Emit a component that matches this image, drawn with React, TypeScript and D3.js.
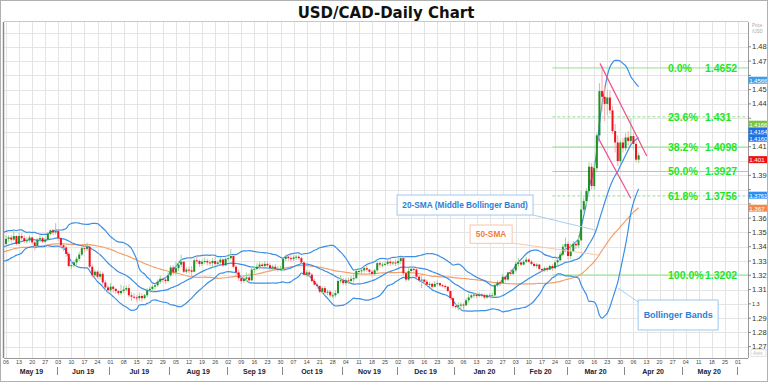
import React, { useMemo } from "react";
import * as d3 from "d3";

const W = 768;
const H = 382;
const START_DATE = new Date(2019, 4, 6);
const TRADING_DAYS = 285;

// closes before the first visible candle (Feb 25 - May 3 2019), used for the indicators
const PRE_CLOSES = [
  1.3160, 1.3180, 1.3215, 1.3160, 1.3240,
  1.3310, 1.3350, 1.3385, 1.3450, 1.3420,
  1.3370, 1.3340, 1.3320, 1.3340, 1.3350,
  1.3310, 1.3335, 1.3310, 1.3385, 1.3440,
  1.3410, 1.3400, 1.3440, 1.3445, 1.3355,
  1.3320, 1.3350, 1.3310, 1.3375, 1.3395,
  1.3350, 1.3345, 1.3330, 1.3350, 1.3345,
  1.3380, 1.3365, 1.3330, 1.3370, 1.3410,
  1.3400, 1.3440, 1.3500, 1.3485, 1.3460,
  1.3415, 1.3400, 1.3445, 1.3460, 1.3420,
];

// visible daily candles, May 6 2019 - Apr 8 2020 (open = previous close)
const CLOSES = [
  1.3455, 1.3465, 1.3450, 1.3475, 1.3420,
  1.3475, 1.3460, 1.3440, 1.3445, 1.3465,
  1.3430, 1.3405, 1.3450, 1.3460, 1.3435,
  1.3450, 1.3490, 1.3515, 1.3500, 1.3510,
  1.3460, 1.3410, 1.3395, 1.3350, 1.3265,
  1.3270, 1.3290, 1.3315, 1.3345, 1.3390,
  1.3385, 1.3400, 1.3260, 1.3200, 1.3225,
  1.3190, 1.3210, 1.3150, 1.3115, 1.3095,
  1.3120, 1.3105, 1.3090, 1.3075, 1.3090,
  1.3100, 1.3110, 1.3060, 1.3050, 1.3045,
  1.3040, 1.3055, 1.3040, 1.3060, 1.3095,
  1.3105, 1.3120, 1.3130, 1.3155, 1.3175,
  1.3170, 1.3160, 1.3200, 1.3255, 1.3220,
  1.3250, 1.3275, 1.3295, 1.3225, 1.3240,
  1.3235, 1.3225, 1.3305, 1.3300, 1.3280,
  1.3295, 1.3300, 1.3290, 1.3285, 1.3300,
  1.3280, 1.3290, 1.3310, 1.3270, 1.3315,
  1.3320, 1.3335, 1.3260, 1.3220, 1.3180,
  1.3160, 1.3175, 1.3185, 1.3165, 1.3240,
  1.3245, 1.3260, 1.3275, 1.3265, 1.3280,
  1.3270, 1.3250, 1.3260, 1.3245, 1.3245,
  1.3245, 1.3315, 1.3330, 1.3320, 1.3315,
  1.3325, 1.3330, 1.3320, 1.3290, 1.3205,
  1.3220, 1.3205, 1.3160, 1.3135, 1.3125,
  1.3085, 1.3110, 1.3080, 1.3085, 1.3060,
  1.3060, 1.3075, 1.3160, 1.3165, 1.3145,
  1.3165, 1.3160, 1.3175, 1.3180, 1.3230,
  1.3230, 1.3235, 1.3250, 1.3240, 1.3225,
  1.3210, 1.3235, 1.3285, 1.3275, 1.3275,
  1.3280, 1.3295, 1.3285, 1.3290, 1.3285,
  1.3300, 1.3320, 1.3215, 1.3170, 1.3230,
  1.3245, 1.3240, 1.3190, 1.3165, 1.3170,
  1.3155, 1.3135, 1.3140, 1.3120, 1.3140,
  1.3145, 1.3130, 1.3125, 1.3120, 1.3090,
  1.3040, 1.2985, 1.2980, 1.2990, 1.2995,
  1.2990, 1.3025, 1.3045, 1.3060, 1.3065,
  1.3055, 1.3065, 1.3060, 1.3045, 1.3060,
  1.3055, 1.3060, 1.3130, 1.3150, 1.3145,
  1.3190, 1.3170, 1.3220, 1.3210, 1.3235,
  1.3280, 1.3290, 1.3275, 1.3295, 1.3310,
  1.3295, 1.3280, 1.3265, 1.3275, 1.3245,
  1.3235, 1.3250, 1.3240, 1.3265, 1.3250,
  1.3290, 1.3305, 1.3345, 1.3400, 1.3420,
  1.3335, 1.3370, 1.3420, 1.3410, 1.3445,
  1.3660, 1.3720, 1.3790, 1.3960, 1.3825,
  1.3950, 1.4180, 1.4490, 1.4450, 1.4400,
  1.4445, 1.4355, 1.4210, 1.4130, 1.4000,
  1.4130, 1.4090, 1.4165, 1.4140, 1.4175,
  1.4120, 1.4010, 1.4040,
];

const HIGHS = [
  1.3480, 1.3480, 1.3480, 1.3520, 1.3480,
  1.3500, 1.3495, 1.3480, 1.3465, 1.3480,
  1.3470, 1.3440, 1.3460, 1.3480, 1.3470,
  1.3465, 1.3505, 1.3520, 1.3525, 1.3565,
  1.3520, 1.3465, 1.3425, 1.3410, 1.3365,
  1.3300, 1.3305, 1.3330, 1.3365, 1.3405,
  1.3410, 1.3430, 1.3410, 1.3275, 1.3240,
  1.3235, 1.3230, 1.3225, 1.3165, 1.3130,
  1.3145, 1.3130, 1.3110, 1.3095, 1.3135,
  1.3125, 1.3130, 1.3135, 1.3080, 1.3075,
  1.3060, 1.3080, 1.3075, 1.3070, 1.3110,
  1.3120, 1.3135, 1.3140, 1.3170, 1.3200,
  1.3185, 1.3185, 1.3220, 1.3270, 1.3270,
  1.3295, 1.3290, 1.3345, 1.3300, 1.3255,
  1.3260, 1.3265, 1.3320, 1.3335, 1.3310,
  1.3310, 1.3325, 1.3315, 1.3305, 1.3320,
  1.3330, 1.3305, 1.3325, 1.3320, 1.3325,
  1.3330, 1.3385, 1.3340, 1.3270, 1.3240,
  1.3195, 1.3190, 1.3220, 1.3215, 1.3265,
  1.3265, 1.3285, 1.3295, 1.3290, 1.3300,
  1.3295, 1.3285, 1.3275, 1.3280, 1.3265,
  1.3265, 1.3320, 1.3345, 1.3345, 1.3340,
  1.3340, 1.3345, 1.3345, 1.3330, 1.3295,
  1.3235, 1.3235, 1.3215, 1.3175, 1.3150,
  1.3130, 1.3120, 1.3125, 1.3100, 1.3095,
  1.3080, 1.3095, 1.3175, 1.3200, 1.3180,
  1.3180, 1.3185, 1.3195, 1.3210, 1.3240,
  1.3250, 1.3245, 1.3270, 1.3270, 1.3245,
  1.3235, 1.3245, 1.3300, 1.3300, 1.3290,
  1.3300, 1.3320, 1.3320, 1.3300, 1.3310,
  1.3320, 1.3330, 1.3325, 1.3225, 1.3250,
  1.3260, 1.3265, 1.3255, 1.3200, 1.3200,
  1.3175, 1.3170, 1.3155, 1.3150, 1.3160,
  1.3165, 1.3150, 1.3140, 1.3135, 1.3125,
  1.3095, 1.3050, 1.3000, 1.3010, 1.3010,
  1.3005, 1.3040, 1.3070, 1.3070, 1.3080,
  1.3075, 1.3080, 1.3075, 1.3070, 1.3070,
  1.3075, 1.3080, 1.3140, 1.3165, 1.3165,
  1.3210, 1.3195, 1.3225, 1.3240, 1.3250,
  1.3300, 1.3320, 1.3300, 1.3310, 1.3330,
  1.3320, 1.3305, 1.3290, 1.3285, 1.3280,
  1.3245, 1.3260, 1.3260, 1.3275, 1.3280,
  1.3305, 1.3330, 1.3365, 1.3420, 1.3465,
  1.3440, 1.3420, 1.3440, 1.3440, 1.3480,
  1.3790, 1.3745, 1.3810, 1.3990, 1.3985,
  1.4000, 1.4195, 1.4545, 1.4667, 1.4530,
  1.4500, 1.4495, 1.4385, 1.4260, 1.4180,
  1.4150, 1.4160, 1.4195, 1.4210, 1.4295,
  1.4200, 1.4140, 1.4060,
];

const LOWS = [
  1.3410, 1.3435, 1.3430, 1.3440, 1.3410,
  1.3415, 1.3445, 1.3425, 1.3420, 1.3430,
  1.3415, 1.3375, 1.3400, 1.3430, 1.3425,
  1.3425, 1.3445, 1.3480, 1.3480, 1.3485,
  1.3440, 1.3390, 1.3370, 1.3330, 1.3255,
  1.3240, 1.3255, 1.3270, 1.3300, 1.3335,
  1.3360, 1.3370, 1.3250, 1.3185, 1.3190,
  1.3175, 1.3170, 1.3135, 1.3090, 1.3070,
  1.3080, 1.3080, 1.3070, 1.3060, 1.3060,
  1.3075, 1.3085, 1.3045, 1.3020, 1.3030,
  1.3015, 1.3020, 1.3015, 1.3030, 1.3045,
  1.3080, 1.3085, 1.3100, 1.3120, 1.3140,
  1.3150, 1.3140, 1.3150, 1.3190, 1.3205,
  1.3200, 1.3230, 1.3255, 1.3215, 1.3210,
  1.3215, 1.3190, 1.3220, 1.3280, 1.3260,
  1.3265, 1.3280, 1.3270, 1.3265, 1.3255,
  1.3265, 1.3265, 1.3280, 1.3260, 1.3265,
  1.3300, 1.3310, 1.3250, 1.3190, 1.3160,
  1.3140, 1.3145, 1.3160, 1.3145, 1.3160,
  1.3215, 1.3235, 1.3240, 1.3245, 1.3255,
  1.3250, 1.3225, 1.3230, 1.3230, 1.3225,
  1.3230, 1.3235, 1.3300, 1.3300, 1.3295,
  1.3300, 1.3305, 1.3305, 1.3280, 1.3200,
  1.3190, 1.3190, 1.3150, 1.3130, 1.3105,
  1.3075, 1.3070, 1.3065, 1.3060, 1.3045,
  1.3040, 1.3045, 1.3065, 1.3145, 1.3130,
  1.3130, 1.3140, 1.3150, 1.3150, 1.3175,
  1.3205, 1.3210, 1.3220, 1.3225, 1.3200,
  1.3190, 1.3200, 1.3225, 1.3255, 1.3255,
  1.3265, 1.3265, 1.3265, 1.3270, 1.3265,
  1.3270, 1.3280, 1.3200, 1.3155, 1.3160,
  1.3225, 1.3225, 1.3180, 1.3150, 1.3110,
  1.3135, 1.3125, 1.3120, 1.3110, 1.3115,
  1.3125, 1.3120, 1.3115, 1.3105, 1.3080,
  1.3030, 1.2970, 1.2965, 1.2955, 1.2960,
  1.2960, 1.2985, 1.3010, 1.3035, 1.3040,
  1.3040, 1.3045, 1.3045, 1.3035, 1.3035,
  1.3045, 1.3040, 1.3050, 1.3120, 1.3125,
  1.3140, 1.3155, 1.3160, 1.3195, 1.3200,
  1.3220, 1.3260, 1.3265, 1.3270, 1.3285,
  1.3285, 1.3270, 1.3255, 1.3250, 1.3235,
  1.3225, 1.3225, 1.3225, 1.3235, 1.3230,
  1.3240, 1.3270, 1.3295, 1.3335, 1.3360,
  1.3310, 1.3315, 1.3360, 1.3385, 1.3390,
  1.3440, 1.3640, 1.3690, 1.3770, 1.3800,
  1.3800, 1.3920, 1.4150, 1.4345, 1.4280,
  1.4320, 1.4330, 1.4190, 1.4060, 1.3965,
  1.3980, 1.4060, 1.4070, 1.4110, 1.4120,
  1.4080, 1.3990, 1.3985,
];

const PRICE_TICKS = [1.27, 1.28, 1.29, 1.3, 1.31, 1.32, 1.33, 1.34, 1.35, 1.36, 1.37, 1.38, 1.39, 1.4, 1.41, 1.42, 1.43, 1.44, 1.45, 1.46, 1.47, 1.48];
const PRICE_TICK_LABELS = ["1.27", "1.28", "1.29", "1.3", "1.31", "1.32", "1.33", "1.34", "1.35", "1.36", "1.37", "1.38", "1.39", "1.40", "1.41", "1.42", "1.43", "1.44", "1.45", "1.46", "1.47", "1.48"];
const EXTRA_GRID_PRICES = [1.49];

const FIB_HIGH = 1.4652;
const FIB_LOW = 1.3202;
const FIB_START_INDEX = 209;
const FIB_RATIOS = [0, 0.236, 0.382, 0.5, 0.618, 1];
const FIB_PCT = ["0.0%", "23.6%", "38.2%", "50.0%", "61.8%", "100.0%"];
const FIB_VALUES = ["1.4652", "1.431", "1.4098", "1.3927", "1.3756", "1.3202"];
const FIB_DASHED = [false, true, false, false, true, false];

const AXIS_TAGS = [
  { value: 1.4566, text: "1.4566", color: "#3f9de6" },
  { value: 1.4166, text: "1.4166", color: "#7cc23e" },
  { value: 1.4164, text: "1.4164", color: "#1f6fe5" },
  { value: 1.416, text: "1.4160", color: "#1f6fe5" },
  { value: 1.401, text: "1.401", color: "#ee1111" },
  { value: 1.3761, text: "1.3761", color: "#2f8ff0" },
  { value: 1.367, text: "1.367", color: "#f28a4e" },
];

// descending channel drawn over the March 2020 swing: [tradingDayIndex, price]
const CHANNEL_LINES = [
  [[227.2, 1.4684], [245.1, 1.4035]],
  [[226.6, 1.4159], [239.0, 1.3739]],
];

const ANNOTATIONS = [
  { text: "20-SMA (Middle Bollinger Band)", color: "#2a7fd6", border: "#9ec8f0", line: "#a9cdf2", box: [149.6, 1.3762, 201.6, 1.3622], pointer: [[201.6, 1.3622], [225.3, 1.3517]], size: 8.3 },
  { text: "50-SMA", color: "#f27b3c", border: "#f8c4a4", line: "#f9c7a9", box: [177.5, 1.3552, 193.6, 1.3424], pointer: [[193.6, 1.3426], [226.5, 1.3342]], size: 8.3 },
  { text: "Bollinger Bands", color: "#2a7fd6", border: "#9ec8f0", line: "#a9cdf2", box: [241.8, 1.3027, 272.4, 1.2817], pointer: [[241.8, 1.3013], [234.1, 1.3111]], size: 9 },
];

const PLOT = { left: 4, top: 22, right: 748, bottom: 358 };
const FONT = "'Liberation Sans', Arial, sans-serif";

export default function App() {
  const days = useMemo(() => {
    const out: Date[] = [];
    let d = new Date(START_DATE);
    while (out.length < TRADING_DAYS) {
      const wd = d.getDay();
      if (wd !== 0 && wd !== 6) out.push(new Date(d));
      d = d3.timeDay.offset(d, 1);
    }
    return out;
  }, []);

  const x = d3.scaleLinear().domain([0, 280]).range([6, 738]);
  const y = d3.scaleLinear().domain([1.27, 1.48]).range([346.7, 46.8]);

  const full = PRE_CLOSES.concat(CLOSES);
  const off = PRE_CLOSES.length;

  const ind = useMemo(() => {
    const res: { j: number; mid: number; up: number; lo: number; sma50: number | null }[] = [];
    for (let j = -2; j < CLOSES.length; j++) {
      const k = j + off;
      if (k < 19) continue;
      const win = full.slice(k - 19, k + 1);
      const m = d3.mean(win)!;
      const sd = Math.sqrt(d3.mean(win.map((v) => (v - m) * (v - m)))!);
      const s50 = k >= 49 ? d3.mean(full.slice(k - 49, k + 1))! : null;
      res.push({ j, mid: m, up: m + 2 * sd, lo: m - 2 * sd, sma50: s50 });
    }
    return res;
  }, []);

  const lineGen = (acc: (d: any) => number | null) =>
    d3
      .line<any>()
      .defined((d) => acc(d) != null)
      .x((d) => x(d.j))
      .y((d) => y(acc(d) as number))
      .curve(d3.curveMonotoneX)(ind) || "";

  // week ticks & months
  const weekTicks = days.map((d, i) => ({ d, i })).filter((o) => o.d.getDay() === 1 && o.i <= 280);
  const monthStarts = days
    .map((d, i) => ({ d, i }))
    .filter((o) => o.i > 0 && o.i <= 280 && o.d.getMonth() !== days[o.i - 1].getMonth());
  const sepX = monthStarts.map((m) => x(m.i) - 1.3);
  const monthLabels: { text: string; cx: number }[] = [];
  monthLabels.push({ text: d3.timeFormat("%b %y")(days[0]), cx: (PLOT.left + sepX[0]) / 2 + 1 });
  for (let m = 0; m < monthStarts.length - 1; m++) {
    monthLabels.push({ text: d3.timeFormat("%b %y")(monthStarts[m].d), cx: (sepX[m] + sepX[m + 1]) / 2 });
  }

  // axis tags stacking
  const tags = AXIS_TAGS.map((t) => ({ ...t, cy: y(t.value) })).sort((a, b) => a.cy - b.cy);
  for (let i = tags.length - 2; i >= 0; i--) {
    if (tags[i].cy > tags[i + 1].cy - 7) tags[i].cy = tags[i + 1].cy - 7;
  }
  // tick labels that a tag covers are hidden behind it, as in the source chart
  const covered = (py: number) => tags.some((t) => Math.abs(t.cy - py) < 6.5);

  const fibLevels = FIB_RATIOS.map((r) => FIB_HIGH - r * (FIB_HIGH - FIB_LOW));

  return (
    <svg width={W} height={H} style={{ position: "absolute", left: 0, top: 0, background: "#fff" }} fontFamily={FONT}>
      <defs>
        <clipPath id="plotClip">
          <rect x={PLOT.left} y={PLOT.top} width={PLOT.right - PLOT.left} height={PLOT.bottom - PLOT.top} />
        </clipPath>
      </defs>
      <rect x={0} y={0} width={W} height={H} fill="#fff" />

      {/* grid */}
      <g stroke="#e4e4e4" strokeWidth={1}>
        {weekTicks.map((t) => (
          <line key={"vg" + t.i} x1={Math.round(x(t.i)) + 0.5} x2={Math.round(x(t.i)) + 0.5} y1={PLOT.top} y2={PLOT.bottom} />
        ))}
        {PRICE_TICKS.concat(EXTRA_GRID_PRICES).map((p) => (
          <line key={"hg" + p} x1={PLOT.left} x2={PLOT.right} y1={Math.round(y(p)) + 0.5} y2={Math.round(y(p)) + 0.5} />
        ))}
      </g>

      <g clipPath="url(#plotClip)">
        {/* fib lines */}
        {fibLevels.map((lv, i) => (
          <line
            key={"fib" + i}
            x1={x(FIB_START_INDEX)}
            x2={PLOT.right}
            y1={y(lv)}
            y2={y(lv)}
            stroke="#8fe08f"
            strokeWidth={1}
            strokeDasharray={FIB_DASHED[i] ? "3,2" : undefined}
          />
        ))}

        {/* indicators */}
        <path d={lineGen((d) => d.sma50)} fill="none" stroke="#f5a06c" strokeWidth={1.2} />
        <path d={lineGen((d) => d.up)} fill="none" stroke="#3c8fe4" strokeWidth={1.2} />
        <path d={lineGen((d) => d.lo)} fill="none" stroke="#3c8fe4" strokeWidth={1.2} />
        <path d={lineGen((d) => d.mid)} fill="none" stroke="#3c8fe4" strokeWidth={1.2} />

        {/* candles */}
        {CLOSES.map((c, j) => {
          const o = full[j + off - 1];
          const h = Math.max(HIGHS[j], o, c);
          const l = Math.min(LOWS[j], o, c);
          const up = c >= o;
          const cx = x(j);
          const top = y(Math.max(o, c));
          const bh = Math.max(1, Math.abs(y(o) - y(c)));
          return (
            <g key={"c" + j}>
              <line x1={cx} x2={cx} y1={y(h)} y2={y(l)} stroke={up ? "#9ad69a" : "#f7a9ad"} strokeWidth={1} />
              <rect x={cx - 1} y={top} width={2} height={bh} fill={up ? "#1f8f26" : "#f2101c"} />
            </g>
          );
        })}

        {/* channel */}
        {CHANNEL_LINES.map((ln, i) => (
          <line key={"ch" + i} x1={x(ln[0][0])} y1={y(ln[0][1])} x2={x(ln[1][0])} y2={y(ln[1][1])} stroke="#f0508e" strokeWidth={1.2} />
        ))}

        {/* annotations */}
        {ANNOTATIONS.map((a, i) => {
          const bx0 = x(a.box[0]);
          const by0 = y(a.box[1]);
          const bx1 = x(a.box[2]);
          const by1 = y(a.box[3]);
          return (
            <g key={"an" + i}>
              <line x1={x(a.pointer[0][0])} y1={y(a.pointer[0][1])} x2={x(a.pointer[1][0])} y2={y(a.pointer[1][1])} stroke={a.line} strokeWidth={1} />
              <rect x={bx0} y={by0} width={bx1 - bx0} height={by1 - by0} fill="#fff" stroke={a.border} strokeWidth={1} />
              <text x={(bx0 + bx1) / 2} y={(by0 + by1) / 2} textAnchor="middle" dominantBaseline="central" fontSize={a.size} fontWeight="bold" fill={a.color}>
                {a.text}
              </text>
            </g>
          );
        })}
      </g>

      {/* fib labels */}
      {fibLevels.map((lv, i) => (
        <g key={"fl" + i} fontSize={10.5} fontWeight="bold" fill="#1ee61e">
          <text x={668} y={y(lv)} dominantBaseline="central">{FIB_PCT[i]}</text>
          <text x={705} y={y(lv)} dominantBaseline="central">{FIB_VALUES[i]}</text>
        </g>
      ))}

      {/* frame */}
      <line x1={PLOT.left - 0.5} x2={PLOT.left - 0.5} y1={PLOT.top} y2={PLOT.bottom} stroke="#8a8a8a" strokeWidth={1.5} />
      <line x1={PLOT.left} x2={PLOT.right} y1={PLOT.top - 0.5} y2={PLOT.top - 0.5} stroke="#c8c8c8" strokeWidth={1} />
      <line x1={PLOT.left} x2={PLOT.right} y1={PLOT.bottom + 0.5} y2={PLOT.bottom + 0.5} stroke="#9a9a9a" strokeWidth={1} />
      <line x1={PLOT.right + 0.5} x2={PLOT.right + 0.5} y1={PLOT.top} y2={PLOT.bottom} stroke="#9a9a9a" strokeWidth={1} />

      {/* right price axis */}
      <g fontSize={7.5} fill="#333">
        {PRICE_TICKS.map((p, i) => (
          <g key={"pt" + p}>
            <line x1={PLOT.right} x2={PLOT.right + 3} y1={y(p)} y2={y(p)} stroke="#888" />
            {!covered(y(p)) && (
              <text x={PLOT.right + 4} y={y(p)} dominantBaseline="central" fontSize={PRICE_TICK_LABELS[i] === "1.3" ? 5.5 : 7.5}>
                {PRICE_TICK_LABELS[i]}
              </text>
            )}
          </g>
        ))}
      </g>
      <text x={752} y={27} fontSize={4.5} fill="#aaa">Price</text>
      <text x={752} y={33} fontSize={4.5} fill="#aaa">/USD</text>
      <rect x={751} y={349.5} width={15} height={7} fill="#fff" stroke="#ddd" strokeWidth={0.8} />
      <text x={753} y={355} fontSize={5} fill="#bbb">Axis</text>

      {/* axis value tags */}
      {tags.map((t, i) => (
        <g key={"tag" + i}>
          <rect x={748.5} y={t.cy - 3.5} width={20} height={7} fill={t.color} />
          <text x={749.2} y={t.cy + 0.3} dominantBaseline="central" fontSize={6.2} fill="#fff" textLength={t.text.length > 5 ? 18.3 : undefined}>
            {t.text}
          </text>
        </g>
      ))}

      {/* date axis */}
      <g fontSize={5.3} fill="#444" textAnchor="middle">
        {weekTicks.map((t) => (
          <text key={"dt" + t.i} x={x(t.i)} y={364}>{d3.timeFormat("%d")(t.d)}</text>
        ))}
      </g>
      <g stroke="#888" strokeWidth={1}>
        {sepX.map((sx, i) => (
          <line key={"sep" + i} x1={Math.round(sx) + 0.5} x2={Math.round(sx) + 0.5} y1={367} y2={375} />
        ))}
      </g>
      <g fontSize={7} fontWeight="bold" fill="#223" textAnchor="middle">
        {monthLabels.map((m, i) => (
          <text key={"ml" + i} x={m.cx} y={373.5}>{m.text}</text>
        ))}
      </g>

      {/* title */}
      <text x={386} y={18} textAnchor="middle" fontSize={15} fontWeight="bold" fill="#111" fontFamily="'DejaVu Sans', sans-serif">
        USD/CAD-Daily Chart
      </text>

      <rect x={0.5} y={0.5} width={W - 1} height={H - 1} fill="none" stroke="#b0b0b0" strokeWidth={1} />
    </svg>
  );
}
